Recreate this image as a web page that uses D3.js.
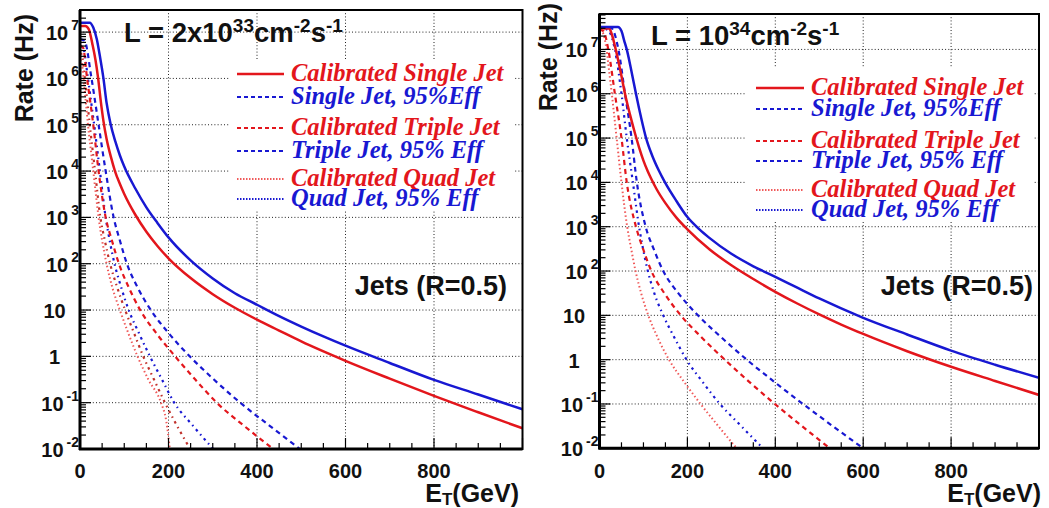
<!DOCTYPE html>
<html><head><meta charset="utf-8">
<script src="https://cdn.jsdelivr.net/npm/d3@7"></script>
<style>body{margin:0;background:#fff}svg{display:block}</style>
</head><body>
<svg id="chart" width="1049" height="508"></svg>
<script>
// ---------- DATA ----------
const xTickValues = [0, 200, 400, 600, 800];
const yExponents = [-2, -1, 0, 1, 2, 3, 4, 5, 6, 7];
const legendLabels = ["Calibrated Single Jet", "Single Jet, 95%Eff", "Calibrated Triple Jet",
  "Triple Jet, 95% Eff", "Calibrated Quad Jet", "Quad Jet, 95% Eff"];
const titleLeft = ["L = 2x10", "33", "cm", "-2", "s", "-1"];
const titleRight = ["L = 10", "34", "cm", "-2", "s", "-1"];
const jetsLabel = "Jets (R=0.5)";

// Left panel: L = 2x10^33 ; [E_T (GeV), rate (Hz)]
const leftCalSingle = [[0,1.35e7],[12,1.35e7],[20,1.15e7],[28,5.5e6],[35,2.5e6],[41,1e6],[47,3.2e5],[53,1.2e5],[60,5e4],[70,2e4],[79,1e4],[90,5.3e3],[100,3.2e3],[125,1.14e3],[150,490],[175,242],[200,131],[250,49],[300,22],[350,11.2],[400,6.2],[450,3.6],[500,2.1],[600,0.8],[700,0.33],[800,0.14],[900,0.062],[1000,0.028]];
const leftEffSingle = [[0,1.6e7],[22,1.6e7],[30,1.25e7],[38,7e6],[45,3e6],[53,1e6],[60,3e5],[69,1.05e5],[80,4.3e4],[90,2.2e4],[100,1.25e4],[125,4.2e3],[150,1.65e3],[175,760],[200,370],[250,118],[300,48],[350,23],[400,13],[450,7.4],[500,4.4],[550,2.7],[600,1.7],[700,0.72],[800,0.31],[900,0.15],[1000,0.072]];
const leftCalTriple = [[0,5e6],[7,4.6e6],[16,1e6],[30,1e5],[42,1e4],[58,1e3],[72,320],[88,100],[110,31],[136,10],[172,3.2],[215,1],[260,0.32],[309,0.1],[370,0.032],[437,0.01]];
const leftEffTriple = [[0,7e6],[10,6.6e6],[26,1e6],[42,1e5],[58,1e4],[76,1e3],[90,320],[106,100],[130,31],[160,10],[200,3.2],[248,1],[302,0.32],[362,0.1],[428,0.032],[497,0.01]];
const leftCalQuad = [[0,2.5e6],[3,2.4e6],[8,1e6],[13,3.2e5],[18,1e5],[24,3.1e4],[30,1e4],[36,3.1e3],[42,1e3],[50,320],[60,100],[73,31],[90,10],[109,3.2],[130,1],[155,0.31],[183,0.1],[195,0.04],[203,0.01]];
const leftEffQuad = [[0,5e6],[7,4.6e6],[18,1e6],[25,3.2e5],[32,1e5],[45,1e4],[58,1e3],[67,320],[78,100],[93,31],[110,10],[133,3.2],[158,1],[185,0.32],[213,0.1],[255,0.032],[301,0.01]];
const leftCalQuadB = [[0,3.5e6],[4,3.3e6],[11,1e6],[22,1e5],[34,1e4],[46,1e3],[56,320],[68,100],[84,31],[102,10],[122,3.2],[143,1],[167,0.32],[192,0.1],[219,0.032],[249,0.01]];

// Right panel: L = 10^34
const rightCalSingle = [[0,3e7],[22,2.95e7],[28,2.2e7],[35,1.2e7],[42,6e6],[50,2.5e6],[58,1e6],[70,3.2e5],[81,1.25e5],[90,6.2e4],[100,3.1e4],[110,1.76e4],[118,1.19e4],[130,7e3],[150,3.4e3],[175,1.6e3],[200,870],[250,310],[300,135],[350,66],[400,34],[450,18.5],[500,10.5],[550,6.2],[600,3.8],[700,1.55],[800,0.69],[900,0.33],[1000,0.16]];
const rightEffSingle = [[0,3.2e7],[42,3.2e7],[50,2.6e7],[56,1.6e7],[62,1e7],[72,3.5e6],[83,1e6],[94,3.1e5],[106,1e5],[120,4e4],[135,1.85e4],[149,1e4],[175,3.8e3],[200,1.65e3],[228,860],[250,560],[300,245],[350,128],[400,74],[450,42],[500,24],[600,8.8],[700,3.7],[800,1.6],[900,0.77],[1000,0.39]];
const rightCalTriple = [[0,2.8e7],[9,2.6e7],[20,1e7],[35,1e6],[50,1e5],[62,1e4],[83,1e3],[99,320],[118,100],[148,31],[185,10],[232,3.2],[285,1],[340,0.32],[399,0.1],[460,0.032],[524,0.01]];
const rightEffTriple = [[0,3.1e7],[27,3e7],[43,1e7],[58,1e6],[73,1e5],[85,1e4],[105,1e3],[123,320],[145,100],[180,31],[224,10],[277,3.2],[335,1],[397,0.32],[463,0.1],[530,0.032],[600,0.01]];
const rightCalQuad = [[0,2.6e7],[6,2.5e7],[16,1e7],[22,3.2e6],[28,1e6],[39,1e5],[50,1e4],[63,1e3],[72,320],[82,100],[95,31],[111,10],[132,3.2],[158,1],[192,0.32],[230,0.1],[270,0.032],[312,0.01]];
const rightEffQuad = [[0,3e7],[18,2.8e7],[35,1e7],[50,1e6],[62,1e5],[76,1e4],[90,1e3],[99,320],[110,100],[125,31],[145,10],[170,3.2],[198,1],[234,0.32],[274,0.1],[322,0.032],[372,0.01]];

// ---------- STYLES ----------
const RED = "#e3161c", BLUE = "#1818d2", PINK = "#f05a5a", DRED = "#c0302a";
const styles = {
  calSingle: {color: RED, dash: null, w: 2.5},
  effSingle: {color: BLUE, dash: null, w: 2.5},
  calTriple: {color: RED, dash: "5,4", w: 2.2},
  effTriple: {color: BLUE, dash: "5,4", w: 2.2},
  calQuad: {color: PINK, dash: "1.5,2.5", w: 2},
  effQuad: {color: BLUE, dash: "2.5,4,1.5,4", w: 2.2},
  calQuadB: {color: DRED, dash: "2.5,4,1.5,4", w: 2.2}
};
const legendStyles = [
  {color: RED, dash: null, w: 2.5}, {color: BLUE, dash: "4,3", w: 2.2},
  {color: RED, dash: "4,3", w: 2.2}, {color: BLUE, dash: "4,3", w: 2.2},
  {color: PINK, dash: "1.5,1.5", w: 2}, {color: BLUE, dash: "1.5,1.5", w: 2}];

const panels = [
  {x0: 80, x1: 522.5, yTop: 10, yBot: 449, yMax: 3e7, title: titleLeft, titleX: 124, titleY: 42,
   rateEndY: 14, rateX: 33, etEndX: 519,
   legend: {box: [229, 60, 284, 150], lineX: [237, 284], textX: 291, rows: [74, 97, 128, 151, 179, 199]},
   jets: {x: 507, y: 295},
   series: [["calQuadB", leftCalQuadB], ["calQuad", leftCalQuad], ["effQuad", leftEffQuad], ["calTriple", leftCalTriple],
            ["effTriple", leftEffTriple], ["calSingle", leftCalSingle], ["effSingle", leftEffSingle]]},
  {x0: 599.5, x1: 1039, yTop: 14, yBot: 448.3, yMax: 6.3e7, title: titleRight, titleX: 651, titleY: 45,
   rateEndY: 3, rateX: 557, etEndX: 1041,
   legend: {box: [746, 68, 287, 153], lineX: [756, 804], textX: 811, rows: [88, 109, 141, 161, 190, 210]},
   jets: {x: 1033, y: 295},
   series: [["calQuad", rightCalQuad], ["effQuad", rightEffQuad], ["calTriple", rightCalTriple],
            ["effTriple", rightEffTriple], ["calSingle", rightCalSingle], ["effSingle", rightEffSingle]]}
];

const svg = d3.select("#chart");
const FONT = "'Liberation Sans', Arial, Helvetica, sans-serif";
const SERIF = "'Liberation Serif', 'Times New Roman', serif";

panels.forEach((p, pi) => {
  const x = d3.scaleLinear().domain([0, 1000]).range([p.x0, p.x1]);
  const y = d3.scaleLog().domain([0.01, p.yMax]).range([p.yBot, p.yTop]);
  const g = svg.append("g");
  const clipId = "clip" + pi;
  svg.append("clipPath").attr("id", clipId).append("rect")
    .attr("x", p.x0).attr("y", p.yTop).attr("width", p.x1 - p.x0).attr("height", p.yBot - p.yTop);

  // grid
  const grid = g.append("g").attr("stroke", "#222").attr("stroke-width", 1).attr("stroke-dasharray", "1,2.2");
  xTickValues.filter(v => v > 0).forEach(v => {
    grid.append("line").attr("x1", x(v)).attr("x2", x(v)).attr("y1", p.yTop).attr("y2", p.yBot);
  });
  yExponents.filter(e => e > -2).forEach(e => {
    grid.append("line").attr("x1", p.x0).attr("x2", p.x1).attr("y1", y(Math.pow(10, e))).attr("y2", y(Math.pow(10, e)));
  });

  // legend background
  const L = p.legend;
  g.append("rect").attr("x", L.box[0]).attr("y", L.box[1]).attr("width", L.box[2]).attr("height", L.box[3]).attr("fill", "#fff");

  // curves
  const line = d3.line().x(d => x(d[0])).y(d => y(d[1])).curve(d3.curveMonotoneX);
  const cg = g.append("g").attr("clip-path", `url(#${clipId})`);
  p.series.forEach(([key, data]) => {
    const s = styles[key];
    cg.append("path").datum(data).attr("d", line).attr("fill", "none")
      .attr("stroke", s.color).attr("stroke-width", s.w)
      .attr("stroke-dasharray", s.dash).attr("stroke-linejoin", "round");
  });

  // ticks
  const tk = g.append("g").attr("stroke", "#000").attr("stroke-width", 1.2);
  d3.range(0, 1001, 50).forEach(v => {
    const major = v % 200 === 0;
    tk.append("line").attr("x1", x(v)).attr("x2", x(v)).attr("y1", p.yBot).attr("y2", p.yBot - (major ? 11 : 6));
  });
  yExponents.forEach(e => {
    const base = Math.pow(10, e);
    tk.append("line").attr("x1", p.x0).attr("x2", p.x0 + 11).attr("y1", y(base)).attr("y2", y(base));
    d3.range(2, 10).forEach(m => {
      const v = m * base;
      if (v <= p.yMax) tk.append("line").attr("x1", p.x0).attr("x2", p.x0 + 6).attr("y1", y(v)).attr("y2", y(v));
    });
  });

  // frame
  g.append("rect").attr("x", p.x0).attr("y", p.yTop).attr("width", p.x1 - p.x0).attr("height", p.yBot - p.yTop)
    .attr("fill", "none").attr("stroke", "#000").attr("stroke-width", 2);
  g.append("line").attr("x1", p.x0).attr("x2", p.x0).attr("y1", p.yTop).attr("y2", p.yBot + 1).attr("stroke", "#000").attr("stroke-width", 3);
  g.append("line").attr("x1", p.x0 - 1).attr("x2", p.x1).attr("y1", p.yBot).attr("y2", p.yBot).attr("stroke", "#000").attr("stroke-width", 3);

  // x tick labels
  xTickValues.forEach(v => {
    g.append("text").attr("x", x(v)).attr("y", 478).attr("text-anchor", "middle")
      .attr("font-family", FONT).attr("font-weight", "bold").attr("font-size", 20).attr("fill", "#111").text(v);
  });
  // y tick labels
  yExponents.forEach(e => {
    const yy = y(Math.pow(10, e));
    const t = g.append("text").attr("font-family", FONT).attr("font-weight", "bold").attr("fill", "#111");
    if (e === 0 || e === 1) {
      t.attr("x", p.x0 - 25.5).attr("y", yy + 8).attr("text-anchor", "middle").attr("font-size", 20).text(e === 0 ? "1" : "10");
    } else {
      t.attr("x", p.x0 - 1).attr("y", yy + 8).attr("text-anchor", "end");
      t.append("tspan").attr("font-size", 20).text("10");
      t.append("tspan").attr("font-size", 14).attr("dx", 3).attr("dy", -10).text(e);
    }
  });

  // axis titles
  svg.append("text").attr("transform", `translate(${p.rateX},${p.rateEndY}) rotate(-90)`).attr("text-anchor", "end")
    .attr("font-family", FONT).attr("font-weight", "bold").attr("font-size", 25).attr("fill", "#111").text("Rate (Hz)");
  const et = svg.append("text").attr("x", p.etEndX).attr("y", 502).attr("text-anchor", "end")
    .attr("font-family", FONT).attr("font-weight", "bold").attr("font-size", 25).attr("fill", "#111");
  et.append("tspan").text("E");
  et.append("tspan").attr("font-size", 17).attr("dy", 3).text("T");
  et.append("tspan").attr("dy", -3).text("(GeV)");

  // title
  const tt = svg.append("text").attr("x", p.titleX).attr("y", p.titleY)
    .attr("font-family", FONT).attr("font-weight", "bold").attr("font-size", 27.5).attr("fill", "#111");
  p.title.forEach((s, i) => {
    const sup = i % 2 === 1;
    const ts = tt.append("tspan").text(s);
    if (sup) ts.attr("font-size", 19).attr("dy", -10);
    else if (i > 0) ts.attr("dy", 10);
  });

  // Jets label
  svg.append("text").attr("x", p.jets.x).attr("y", p.jets.y).attr("text-anchor", "end")
    .attr("font-family", FONT).attr("font-weight", "bold").attr("font-size", 27).attr("fill", "#111").text(jetsLabel);

  // legend
  legendLabels.forEach((lab, i) => {
    const ry = L.rows[i];
    const ls = legendStyles[i];
    svg.append("line").attr("x1", L.lineX[0]).attr("x2", L.lineX[1]).attr("y1", ry).attr("y2", ry)
      .attr("stroke", ls.color).attr("stroke-width", ls.w).attr("stroke-dasharray", ls.dash);
    svg.append("text").attr("x", L.textX).attr("y", ry + 7)
      .attr("font-family", SERIF).attr("font-weight", "bold").attr("font-style", "italic").attr("font-size", 24.5)
      .attr("fill", i % 2 === 0 ? RED : BLUE).text(lab);
  });
});
</script>
</body></html>
